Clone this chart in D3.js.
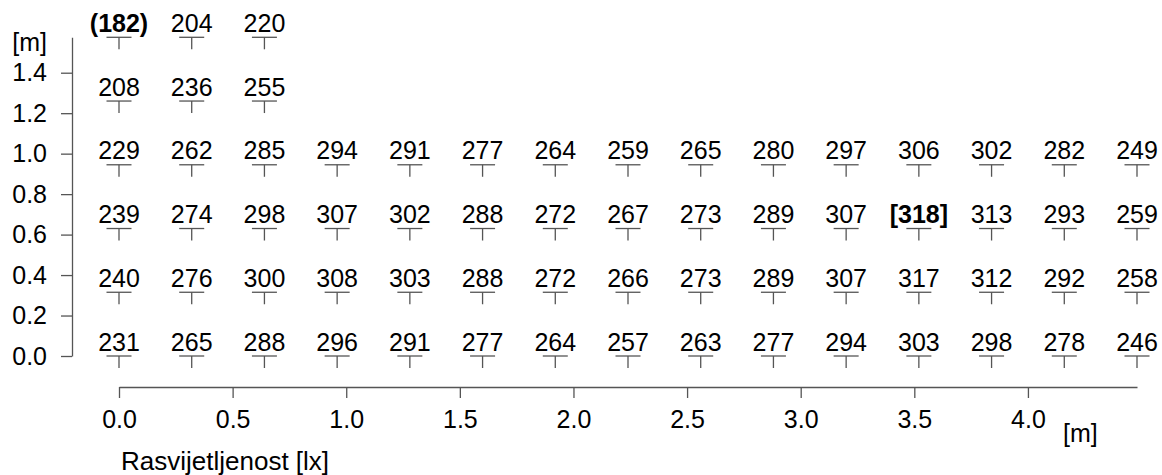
<!DOCTYPE html>
<html>
<head>
<meta charset="utf-8">
<script src="https://cdn.jsdelivr.net/npm/d3@7"></script>
<style>
  body { margin: 0; background: #fff; }
  svg { display: block; font-family: "Liberation Sans", Arial, sans-serif; }
</style>
</head>
<body>
<div id="chart"></div>
<script>
// Measurement grid positions [m]
const xPos = [0, 0.32, 0.64, 0.96, 1.28, 1.6, 1.92, 2.24, 2.56, 2.88, 3.2, 3.52, 3.84, 4.16, 4.48];
const yPos = [0, 0.315, 0.63, 0.945, 1.26, 1.575];

// Illuminance [lx] per row, bottom row first
const row0 = [231, 265, 288, 296, 291, 277, 264, 257, 263, 277, 294, 303, 298, 278, 246];
const row1 = [240, 276, 300, 308, 303, 288, 272, 266, 273, 289, 307, 317, 312, 292, 258];
const row2 = [239, 274, 298, 307, 302, 288, 272, 267, 273, 289, 307, 318, 313, 293, 259];
const row3 = [229, 262, 285, 294, 291, 277, 264, 259, 265, 280, 297, 306, 302, 282, 249];
const row4 = [208, 236, 255];
const row5 = [182, 204, 220];
const rows = [row0, row1, row2, row3, row4, row5];

// Axis ticks
const xTicks = [0, 0.5, 1.0, 1.5, 2.0, 2.5, 3.0, 3.5, 4.0];
const yTicks = [0, 0.2, 0.4, 0.6, 0.8, 1.0, 1.2, 1.4];

const minValue = d3.min(rows.flat());
const maxValue = d3.max(rows.flat());

const width = 1162, height = 475;
const fontSize = 25;

const svg = d3.select("#chart").append("svg")
    .attr("width", width)
    .attr("height", height);

// Scales
const x = d3.scaleLinear().domain([0, 4.48]).range([119, 1137]);
const y = d3.scaleLinear().domain([0, 1.575]).range([356, 37.3]);

// Y axis
const yAxis = svg.append("g")
    .attr("transform", "translate(72,0)")
    .call(d3.axisLeft(y).tickValues(yTicks).tickFormat(d3.format(".1f"))
        .tickSize(11).tickSizeOuter(0).tickPadding(14));

// X axis
const xAxis = svg.append("g")
    .attr("transform", "translate(0,387)")
    .call(d3.axisBottom(x).tickValues(xTicks).tickFormat(d3.format(".1f"))
        .tickSize(11).tickSizeOuter(0).tickPadding(12));

svg.selectAll(".domain").attr("stroke", "#555").attr("stroke-width", 1.3);
svg.selectAll(".tick line").attr("stroke", "#555").attr("stroke-width", 1.3);
svg.selectAll(".tick text")
    .attr("fill", "#000")
    .style("font-family", "'Liberation Sans', Arial, sans-serif")
    .style("font-size", fontSize + "px");
xAxis.selectAll(".tick text").attr("dy", "0.71em");

// Axis labels
svg.append("text")
    .attr("x", 47).attr("y", 51)
    .attr("text-anchor", "end")
    .style("font-size", fontSize + "px")
    .text("[m]");

svg.append("text")
    .attr("x", 1063).attr("y", 442)
    .style("font-size", fontSize + "px")
    .text("[m]");

svg.append("text")
    .attr("x", 121).attr("y", 470)
    .style("font-size", "26px")
    .text("Rasvijetljenost [lx]");

// Points and values
const points = [];
rows.forEach((row, ri) => {
    row.forEach((v, ci) => {
        points.push({ x: xPos[ci], y: yPos[ri], v: v });
    });
});

const g = svg.append("g");

const marks = g.selectAll(".mark")
    .data(points)
    .join("g")
    .attr("class", "mark")
    .attr("transform", d => `translate(${x(d.x)},${y(d.y)})`);

marks.append("line")
    .attr("x1", -12.5).attr("x2", 12.5)
    .attr("stroke", "#555").attr("stroke-width", 1.3);

marks.append("line")
    .attr("y1", 0).attr("y2", 12)
    .attr("stroke", "#555").attr("stroke-width", 1.3);

// min value in round brackets, max in square brackets, both bold
marks.append("text")
    .attr("y", -5.5)
    .attr("text-anchor", "middle")
    .style("font-size", fontSize + "px")
    .style("font-weight", d => (d.v === minValue || d.v === maxValue) ? "bold" : "normal")
    .text(d => d.v === minValue ? `(${d.v})` : d.v === maxValue ? `[${d.v}]` : d.v);
</script>
</body>
</html>
